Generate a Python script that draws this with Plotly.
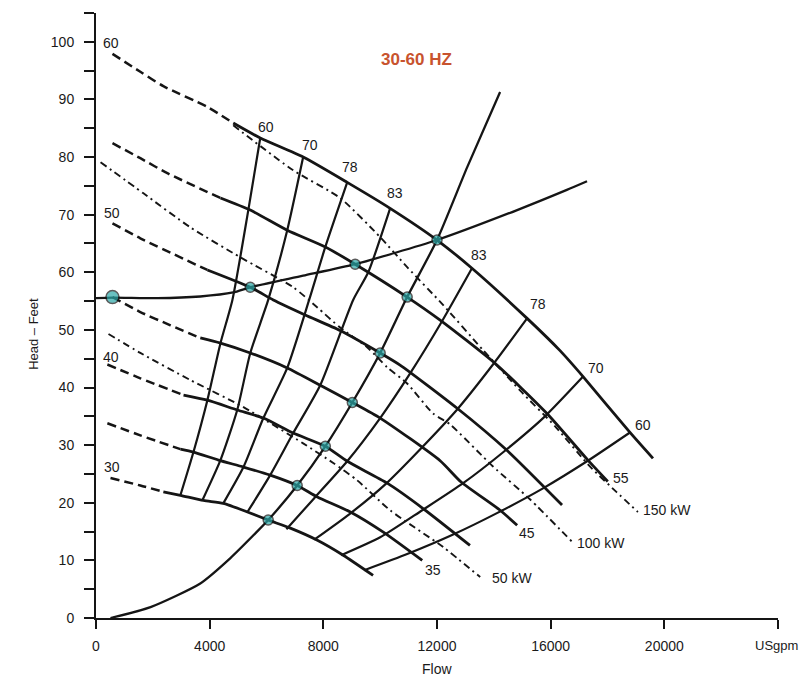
import plotly.graph_objects as go

# ---------------- data (flow in USgpm, head in feet) ----------------
# Speed curves: dashed (unstable) part runs up to the "knee" flow, solid afterwards
flow_60 = [580, 1560, 2370, 3920, 4830, 5780, 7290, 8840, 10350, 12000, 13230, 15170, 16330, 17140, 18790, 19600]
head_60 = [97.9, 94.8, 92.3, 88.7, 85.9, 83.3, 80.0, 75.6, 71.1, 65.6, 60.7, 52.0, 46.4, 41.9, 32.2, 27.7]
knee_60 = 4830

flow_55 = [580, 1560, 2510, 4380, 5430, 6730, 8070, 9120, 10950, 12110, 14040, 15870, 17310, 18010]
head_55 = [82.4, 79.8, 77.2, 72.9, 70.8, 67.3, 64.4, 61.4, 55.7, 51.7, 44.2, 35.5, 27.4, 23.7]
knee_55 = 4380

flow_50 = [580, 1560, 3920, 5430, 6240, 7360, 8590, 10000, 10700, 12710, 14460, 16400]
head_50 = [68.5, 65.9, 60.4, 57.4, 55.2, 52.6, 49.9, 46.0, 43.9, 36.4, 29.1, 19.6]
knee_50 = 3920

flow_45 = [580, 1560, 2620, 3670, 4380, 5430, 6730, 7890, 9020, 10000, 12110, 12850, 14220, 14820]
head_45 = [55.7, 53.1, 50.8, 48.6, 47.7, 46.0, 43.4, 40.4, 37.4, 34.7, 27.3, 23.6, 18.7, 16.1]
knee_45 = 3670

flow_40 = [400, 1560, 3080, 3920, 4970, 5890, 6940, 8070, 8840, 10250, 11510, 13160]
head_40 = [44.0, 41.6, 38.7, 37.8, 36.1, 34.7, 32.1, 29.8, 27.2, 23.4, 19.0, 12.6]
knee_40 = 3080

flow_35 = [400, 1560, 2970, 3430, 4310, 5190, 6130, 7080, 7790, 8950, 10110, 11480]
head_35 = [33.8, 31.7, 29.3, 28.8, 27.4, 26.2, 24.8, 23.0, 21.0, 18.4, 14.9, 10.0]
knee_35 = 2970

flow_30 = [510, 1560, 2370, 2970, 3780, 4480, 5330, 6060, 6840, 7790, 8700, 9750]
head_30 = [24.3, 23.0, 21.9, 21.3, 20.4, 19.9, 18.4, 17.0, 15.6, 13.5, 10.9, 7.4]
knee_30 = 2370

# Iso-efficiency lines (%), from the 60 Hz curve down to the 30 Hz curve
eff60_left_flow = [5780, 5360, 4800, 4380, 3920, 3430, 2970]
eff60_left_head = [83.3, 70.8, 55.2, 47.7, 37.8, 28.8, 21.3]
eff70_left_flow = [7290, 6730, 6060, 5430, 4970, 4380, 3740]
eff70_left_head = [80.0, 67.3, 55.2, 46.0, 36.1, 27.4, 20.4]
eff78_left_flow = [8840, 8070, 7500, 6730, 5890, 5190, 4480]
eff78_left_head = [75.6, 64.4, 55.2, 43.4, 34.7, 26.2, 19.9]
eff83_left_flow = [10350, 9580, 9050, 7890, 6940, 6130, 5330]
eff83_left_head = [71.1, 60.0, 55.2, 40.4, 32.1, 24.8, 18.4]
eff83_right_flow = [13230, 12140, 11060, 10000, 8840, 7680, 6700]
eff83_right_head = [60.7, 51.2, 42.5, 34.7, 27.2, 20.8, 15.4]
eff78_right_flow = [15170, 13970, 12710, 11410, 10180, 8910, 7680]
eff78_right_head = [52.0, 44.0, 36.2, 29.3, 23.2, 18.0, 13.6]
eff70_right_flow = [17140, 15800, 14360, 12920, 11480, 10000, 8630]
eff70_right_head = [41.9, 35.0, 28.9, 23.4, 18.7, 14.0, 10.9]
eff60_right_flow = [18790, 17280, 15730, 14110, 12530, 10950, 9440]
eff60_right_head = [32.2, 27.2, 22.5, 18.2, 14.4, 11.1, 8.3]

# System curves
static_flow = [0, 580, 2160, 3670, 4830, 5430, 7290, 9120, 12000, 14820, 16570, 17280]
static_head = [55.5, 55.6, 55.5, 55.8, 56.5, 57.4, 59.4, 61.4, 65.6, 70.8, 74.3, 75.8]
friction_flow = [510, 1920, 3670, 4730, 5710, 6060, 7080, 8070, 9020, 10000, 10950, 12000, 13060, 14220]
friction_head = [0.0, 1.9, 6.0, 10.4, 15.2, 17.0, 23.0, 29.8, 37.4, 46.0, 55.7, 65.6, 78.2, 91.3]

# Operating points (system curve x speed curve)
dot_flow = [580, 5430, 9120, 12000, 6060, 7080, 8070, 9020, 10000, 10950]
dot_head = [55.7, 57.4, 61.4, 65.6, 17.0, 23.0, 29.8, 37.4, 46.0, 55.7]

# Constant power lines
kw150_flow = [4830, 6940, 8590, 10000, 10950, 12220, 13620, 14920, 16150, 17380, 18330, 19070]
kw150_head = [85.5, 77.7, 72.9, 66.1, 60.9, 54.3, 46.5, 39.5, 33.3, 26.3, 21.8, 18.4]
kw100_flow = [160, 1670, 3320, 5080, 6940, 7790, 8590, 9540, 10250, 10950, 11860, 12460, 13970, 15270, 16780]
kw100_head = [79.1, 73.7, 67.8, 62.6, 57.4, 53.9, 50.4, 47.0, 43.5, 40.7, 35.5, 33.6, 26.3, 20.6, 13.1]
kw50_flow = [440, 1560, 3320, 5190, 7290, 8350, 9190, 10350, 12220, 13520]
kw50_head = [49.3, 46.0, 41.3, 36.6, 30.3, 26.9, 23.9, 18.7, 12.3, 7.1]

# Labels
speed_label_text = ["60", "50", "40", "30", "55", "45", "35"]
speed_label_flow = [545, 580, 545, 580, 18470, 15170, 11860]
speed_label_head = [99.8, 70.3, 45.3, 26.2, 24.3, 14.7, 8.4]
eff_label_text = ["60", "70", "78", "83", "83", "78", "70", "60"]
eff_label_flow = [5990, 7540, 8950, 10530, 13480, 15550, 17590, 19250]
eff_label_head = [85.2, 82.1, 78.3, 73.7, 63.0, 54.5, 43.4, 33.5]
kw_label_text = ["150 kW", "100 kW", "50 kW"]
kw_label_flow = [20090, 17770, 14640]
kw_label_head = [18.7, 13.1, 6.9]

x_tick_vals = [0, 4000, 8000, 12000, 16000, 20000, 24000]
x_tick_text = ["0", "4000", "8000", "12000", "16000", "20000", ""]
x_unit_text = "USgpm"
y_tick_vals = list(range(0, 106, 5))
y_tick_text = [str(v) if v % 10 == 0 else "" for v in y_tick_vals]

title_text = "30-60 HZ"
title_flow, title_head = 11283, 97.0

# ---------------- figure ----------------
INK = "#151515"
FONT = "Liberation Sans, Arial, sans-serif"

fig = go.Figure()


def add_line(x, y, width=2.0, dash=None, smooth=0.6):
    fig.add_trace(go.Scatter(
        x=x, y=y, mode="lines",
        line=dict(color=INK, width=width, dash=dash, shape="spline", smoothing=smooth),
        hoverinfo="skip", showlegend=False))


# power lines (dash-dot)
for fx, hy in [(kw150_flow, kw150_head), (kw100_flow, kw100_head), (kw50_flow, kw50_head)]:
    add_line(fx, hy, width=1.9, dash="7px,4px,2px,4px")

# speed curves
speed_curves = [(flow_60, head_60, knee_60), (flow_55, head_55, knee_55),
                (flow_50, head_50, knee_50), (flow_45, head_45, knee_45),
                (flow_40, head_40, knee_40), (flow_35, head_35, knee_35),
                (flow_30, head_30, knee_30)]
for fx, hy, knee in speed_curves:
    i = fx.index(knee)
    add_line(fx[:i + 1], hy[:i + 1], width=2.5, dash="9px,5px")
    add_line(fx[i:], hy[i:], width=2.8)

# efficiency lines
for fx, hy in [(eff60_left_flow, eff60_left_head), (eff70_left_flow, eff70_left_head),
               (eff78_left_flow, eff78_left_head), (eff83_left_flow, eff83_left_head),
               (eff83_right_flow, eff83_right_head), (eff78_right_flow, eff78_right_head),
               (eff70_right_flow, eff70_right_head), (eff60_right_flow, eff60_right_head)]:
    add_line(fx, hy, width=2.2)

# system curves
add_line(static_flow, static_head, width=2.3)
add_line(friction_flow, friction_head, width=2.3)

# operating points
fig.add_trace(go.Scatter(
    x=dot_flow, y=dot_head, mode="markers",
    marker=dict(size=[13] + [10] * (len(dot_flow) - 1), color="#2aa7a7",
                line=dict(color=INK, width=1.5)),
    hoverinfo="skip", showlegend=False))

annotations = []
for t, xv, yv in zip(speed_label_text + eff_label_text + kw_label_text,
                     speed_label_flow + eff_label_flow + kw_label_flow,
                     speed_label_head + eff_label_head + kw_label_head):
    annotations.append(dict(x=xv, y=yv, xref="x", yref="y", text=t, showarrow=False,
                            font=dict(family=FONT, size=14, color="#1a1a1a")))
annotations.append(dict(x=title_flow, y=title_head, xref="x", yref="y", text="<b>" + title_text + "</b>",
                        showarrow=False, font=dict(family=FONT, size=17, color="#c8532e")))
annotations.append(dict(x=-0.106, y=0.47, xref="paper", yref="paper", text="Head – Feet",
                        textangle=-90, showarrow=False,
                        font=dict(family=FONT, size=13, color="#1a1a1a")))
annotations.append(dict(x=0.5, y=-0.084, xref="paper", yref="paper", text="Flow",
                        showarrow=False, yanchor="middle",
                        font=dict(family=FONT, size=14, color="#1a1a1a")))
annotations.append(dict(x=x_tick_vals[-1], y=-0.045, xref="x", yref="paper", text=x_unit_text,
                        showarrow=False, yanchor="middle", xanchor="center", xshift=-2,
                        font=dict(family=FONT, size=13, color="#1a1a1a")))

fig.update_layout(
    width=799, height=680,
    margin=dict(l=96, r=21, t=13, b=62),
    paper_bgcolor="white", plot_bgcolor="white",
    annotations=annotations,
    showlegend=False,
)
fig.update_xaxes(range=[0, 24000], tickvals=x_tick_vals, ticktext=x_tick_text,
                 showline=True, linecolor=INK, linewidth=2, ticks="outside", ticklen=9,
                 tickwidth=2, tickcolor=INK, showgrid=False, zeroline=False, automargin=False,
                 tickfont=dict(family=FONT, size=14, color="#1a1a1a"), ticklabelstandoff=5)
fig.update_yaxes(range=[0, 105], tickvals=y_tick_vals, ticktext=y_tick_text,
                 showline=True, linecolor=INK, linewidth=2, ticks="outside", ticklen=10,
                 tickwidth=2, tickcolor=INK, showgrid=False, zeroline=False, automargin=False,
                 tickfont=dict(family=FONT, size=14, color="#1a1a1a"), ticklabelstandoff=7)

fig.write_html("out.html", config={"displayModeBar": False},
               post_script="document.body.style.margin='0px';")
